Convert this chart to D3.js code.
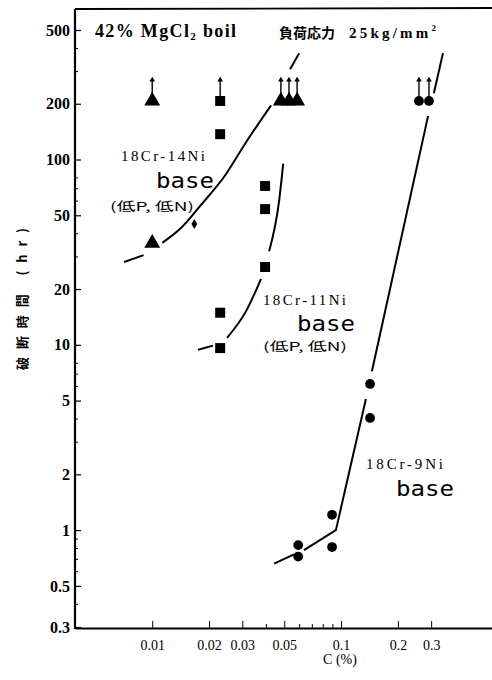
<!DOCTYPE html>
<html>
<head>
<meta charset="utf-8">
<script src="https://cdn.jsdelivr.net/npm/d3@7"></script>
<style>
body { margin: 0; background: #fff; }
svg { display: block; }
</style>
</head>
<body>
<script>
// 18Cr-14Ni base : triangles
var ni14Pts = [[0.01, 35.4]];
var ni14Runout = [[0.01, 207], [0.048, 207], [0.053, 207], [0.0585, 207]];
var ni14Small = [[0.0167, 44.9]];
var ni14Fit = [
  [[0.0071, 28.0], [0.0090, 30.5]],
  [[0.0113, 35.5], [0.0141, 42.4], [0.018, 56.4], [0.0243, 82], [0.0314, 124], [0.0426, 196]],
  [[0.0537, 307], [0.06, 375]]
];

// 18Cr-11Ni base : squares
var ni11Pts = [[0.0229, 137], [0.0396, 72], [0.0396, 54], [0.0396, 26.3], [0.0229, 14.9], [0.0229, 9.6]];
var ni11Runout = [[0.0229, 207]];
var ni11Fit = [
  [[0.0175, 9.4], [0.021, 9.9]],
  [[0.0249, 10.9], [0.0314, 15.2], [0.0377, 22.7]],
  [[0.0416, 32], [0.047, 60], [0.0494, 95]]
];

// 18Cr-9Ni base : circles
var ni9Pts = [[0.1424, 6.15], [0.1424, 4.03], [0.0896, 1.21], [0.0896, 0.81], [0.0593, 0.83], [0.0593, 0.72]];
var ni9Runout = [[0.2586, 207], [0.2922, 207]];
var ni9Fit = [
  [[0.0442, 0.66], [0.0564, 0.74]],
  [[0.0636, 0.78], [0.0939, 1.0], [0.1354, 5.1]],
  [[0.1457, 7.2], [0.289, 172]],
  [[0.31, 228], [0.3465, 375]]
];

var yTicks = [0.3, 0.5, 1, 2, 5, 10, 20, 50, 100, 200, 500];
var yMinor = [0.4, 0.6, 0.7, 0.8, 0.9, 3, 4, 6, 7, 8, 30, 40, 60, 70, 80, 300, 400];
var xTicks = [0.01, 0.02, 0.03, 0.05, 0.1, 0.2, 0.3];
var xMinor = [0.04, 0.06, 0.07, 0.08, 0.09];

var screen = { width: 492, height: 680 };
var margins = { top: 9, left: 75, right: 0, bottom: 52 };
var axisY = screen.height - margins.bottom;

var svg = d3.select('body').append('svg')
            .attr('width', screen.width)
            .attr('height', screen.height);

var xScale = d3.scaleLog()
               .domain([0.0039, 0.63])
               .range([margins.left, screen.width - margins.right]);
var yScale = d3.scaleLog()
               .domain([0.3, 500])
               .range([627, 30]);

var serif = '"Liberation Serif", "DejaVu Serif", serif';
var cjk = '"Noto Sans CJK JP", "Noto Sans CJK SC", sans-serif';
var mono = '"DejaVu Sans Mono", "Liberation Mono", monospace';

// axes
var yAxis = d3.axisLeft(yScale)
              .tickValues(yTicks)
              .tickFormat(String)
              .tickSizeInner(-6)
              .tickSizeOuter(0)
              .tickPadding(5);
var yAxisMinor = d3.axisLeft(yScale)
                   .tickValues(yMinor)
                   .tickFormat('')
                   .tickSizeInner(-3)
                   .tickSizeOuter(0);
var xAxis = d3.axisBottom(xScale)
              .tickValues(xTicks)
              .tickFormat(String)
              .tickSizeInner(-7)
              .tickSizeOuter(0)
              .tickPadding(12);
var xAxisMinor = d3.axisBottom(xScale)
                   .tickValues(xMinor)
                   .tickFormat('')
                   .tickSizeInner(-4)
                   .tickSizeOuter(0);

var gy = svg.append('g')
   .classed('yAxis', true)
   .attr('transform', 'translate(' + margins.left + ',0)')
   .call(yAxis);
gy.select('.domain').remove();
gy.selectAll('text')
  .attr('font-family', serif)
  .attr('font-weight', 'bold')
  .attr('font-size', 16)
  .attr('fill', '#000');
gy.selectAll('line').attr('stroke-width', 1.2);

var gym = svg.append('g')
   .attr('transform', 'translate(' + margins.left + ',0)')
   .call(yAxisMinor);
gym.select('.domain').remove();

var gx = svg.append('g')
   .classed('xAxis', true)
   .attr('transform', 'translate(0,' + axisY + ')')
   .call(xAxis);
gx.select('.domain').attr('stroke-width', 2);
gx.selectAll('text')
  .attr('font-family', serif)
  .attr('font-size', 14)
  .attr('fill', '#000');

var gxm = svg.append('g')
   .attr('transform', 'translate(0,' + axisY + ')')
   .call(xAxisMinor);
gxm.select('.domain').remove();

// frame: left axis line and top line
svg.append('line')
   .attr('x1', margins.left).attr('x2', margins.left)
   .attr('y1', margins.top).attr('y2', axisY + 1)
   .attr('stroke', '#000').attr('stroke-width', 2.2);
svg.append('line')
   .attr('x1', margins.left).attr('x2', screen.width)
   .attr('y1', margins.top).attr('y2', margins.top - 1)
   .attr('stroke', '#000').attr('stroke-width', 1.8);

// fitted curves
var line = d3.line()
             .x(function(d){ return xScale(d[0]); })
             .y(function(d){ return yScale(d[1]); });
var curve = d3.line()
              .x(function(d){ return xScale(d[0]); })
              .y(function(d){ return yScale(d[1]); })
              .curve(d3.curveMonotoneX);

function drawFit(segs, gen){
  svg.append('g').selectAll('path')
     .data(segs)
     .enter()
     .append('path')
     .attr('d', gen)
     .attr('fill', 'none')
     .attr('stroke', '#000')
     .attr('stroke-width', 2);
}
drawFit(ni14Fit, curve);
drawFit(ni11Fit, curve);
drawFit(ni9Fit, line);

// markers
function drawPoints(pts, type, size){
  svg.append('g').selectAll('path')
     .data(pts)
     .enter()
     .append('path')
     .attr('transform', function(d){ return 'translate(' + xScale(d[0]) + ',' + yScale(d[1]) + ')'; })
     .attr('d', d3.symbol().type(type).size(size))
     .attr('fill', '#000');
}
// run-out arrows (not broken)
function drawArrows(pts){
  var g = svg.append('g');
  g.selectAll('line')
   .data(pts)
   .enter()
   .append('line')
   .attr('x1', function(d){ return xScale(d[0]); })
   .attr('x2', function(d){ return xScale(d[0]); })
   .attr('y1', function(d){ return yScale(d[1]) - 4; })
   .attr('y2', function(d){ return yScale(d[1]) - 20; })
   .attr('stroke', '#000')
   .attr('stroke-width', 1.4);
  g.selectAll('path')
   .data(pts)
   .enter()
   .append('path')
   .attr('transform', function(d){ return 'translate(' + xScale(d[0]) + ',' + (yScale(d[1]) - 21) + ')'; })
   .attr('d', d3.symbol().type(d3.symbolTriangle).size(14))
   .attr('fill', '#000');
}

drawArrows(ni14Runout);
drawArrows(ni11Runout);
drawArrows(ni9Runout);

drawPoints(ni14Pts, d3.symbolTriangle, 110);
drawPoints(ni14Runout, d3.symbolTriangle, 110);
drawPoints(ni14Small, d3.symbolDiamond, 28);
drawPoints(ni11Pts, d3.symbolSquare, 100);
drawPoints(ni11Runout, d3.symbolSquare, 100);
drawPoints(ni9Pts, d3.symbolCircle, 75);
drawPoints(ni9Runout, d3.symbolCircle, 75);

// annotations
var t1 = svg.append('text')
   .attr('x', 95).attr('y', 37)
   .attr('font-family', serif).attr('font-weight', 'bold').attr('font-size', 18)
   .attr('textLength', 141).attr('lengthAdjust', 'spacing');
t1.append('tspan').text('42% MgCl');
t1.append('tspan').attr('font-size', 11).attr('dy', 3).text('2');
t1.append('tspan').attr('dy', -3).text(' boil');

svg.append('text')
   .attr('x', 279).attr('y', 38)
   .attr('font-family', cjk).attr('font-weight', 'bold').attr('font-size', 14)
   .attr('textLength', 56).attr('lengthAdjust', 'spacing')
   .text('負荷応力');
var t2 = svg.append('text')
   .attr('x', 349).attr('y', 38)
   .attr('font-family', serif).attr('font-weight', 'bold').attr('font-size', 15)
   .attr('textLength', 87).attr('lengthAdjust', 'spacing');
t2.append('tspan').text('25kg/mm');
t2.append('tspan').attr('font-size', 9).attr('dy', -7).text('2');

function label(x, y, name, w, baseX, baseY, noteX, noteY){
  svg.append('text')
     .attr('x', x).attr('y', y)
     .attr('font-family', serif).attr('font-size', 15)
     .attr('textLength', w).attr('lengthAdjust', 'spacing')
     .text(name);
  svg.append('text')
     .attr('x', baseX).attr('y', baseY)
     .attr('font-family', mono).attr('font-size', 22)
     .attr('textLength', 58).attr('lengthAdjust', 'spacingAndGlyphs')
     .text('base');
  if (noteX !== undefined){
    svg.append('text')
       .attr('x', noteX).attr('y', noteY)
       .attr('font-family', cjk).attr('font-size', 12)
       .attr('textLength', 84).attr('lengthAdjust', 'spacingAndGlyphs')
       .text('(低P, 低N)');
  }
}
label(121, 161, '18Cr-14Ni', 84, 156, 188, 110, 211);
label(263, 305, '18Cr-11Ni', 83, 297, 331, 263, 351);
label(366, 469, '18Cr-9Ni', 77, 396, 496);

svg.append('text')
   .attr('transform', 'translate(27,299) rotate(-90)')
   .attr('text-anchor', 'middle')
   .attr('font-family', cjk).attr('font-weight', 'bold').attr('font-size', 13)
   .attr('textLength', 142).attr('lengthAdjust', 'spacing')
   .text('破断時間 (hr)');

svg.append('text')
   .attr('x', 340).attr('y', 664)
   .attr('text-anchor', 'middle')
   .attr('font-family', serif).attr('font-size', 14)
   .text('C (%)');
</script>
</body>
</html>
